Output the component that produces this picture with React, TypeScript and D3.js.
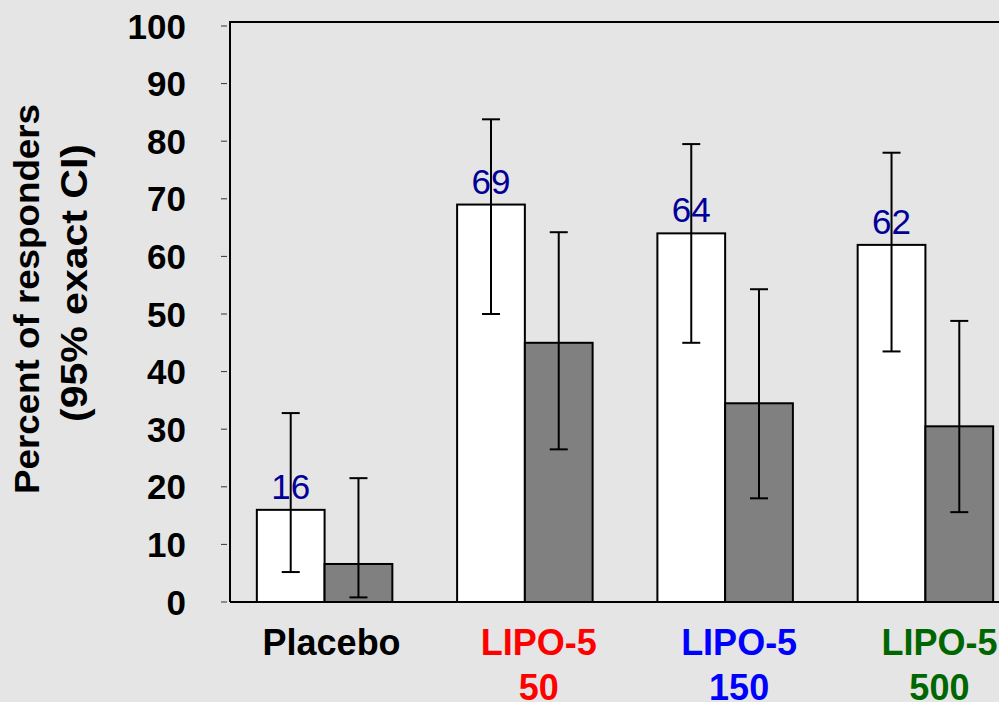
import React, { useEffect, useRef } from "react";
import * as d3 from "d3";

const categories = ["Placebo", "LIPO-5 50", "LIPO-5 150", "LIPO-5 500"];
const labelLines = [["Placebo"], ["LIPO-5", "50"], ["LIPO-5", "150"], ["LIPO-5", "500"]];
const labelColors = ["#000000", "#ff0000", "#0000ff", "#006600"];

// white bars (with printed values) and gray bars
const whiteValues = [16, 69, 64, 62];
const whiteLow = [5.2, 50, 45, 43.5];
const whiteHigh = [32.8, 83.8, 79.5, 78];
const grayValues = [6.6, 45, 34.5, 30.5];
const grayLow = [0.8, 26.5, 18, 15.6];
const grayHigh = [21.5, 64.2, 54.3, 48.8];

const yTicks = [0, 10, 20, 30, 40, 50, 60, 70, 80, 90, 100];

const App = () => {
  const svgRef = useRef<SVGSVGElement>(null);

  useEffect(() => {
    document.body.style.margin = "0";
    document.body.style.overflow = "hidden";

    const width = 999,
      height = 702;
    const left = 230,
      bottom = 602,
      top = 22;
    const font = "'Liberation Sans', Arial, sans-serif";

    const svg = d3
      .select(svgRef.current)
      .attr("width", width)
      .attr("height", height)
      .html("");

    svg.append("rect").attr("width", width).attr("height", height).attr("fill", "#e5e5e5");

    const y = d3.scaleLinear().domain([0, 100]).range([bottom, 26]);

    const x = d3
      .scaleBand()
      .domain(categories)
      .range([left, 1020])
      .paddingInner(0.3234)
      .paddingOuter(0.134);

    const sub = d3.scaleBand().domain(["white", "gray"]).range([0, x.bandwidth()]);

    // frame lines
    svg.append("line")
      .attr("x1", left).attr("x2", width).attr("y1", top).attr("y2", top)
      .attr("stroke", "#000").attr("stroke-width", 2);
    svg.append("line")
      .attr("x1", left).attr("x2", left).attr("y1", top - 1).attr("y2", bottom)
      .attr("stroke", "#000").attr("stroke-width", 2);
    svg.append("line")
      .attr("x1", left).attr("x2", width).attr("y1", bottom).attr("y2", bottom)
      .attr("stroke", "#000").attr("stroke-width", 2);

    // y ticks + labels
    const tg = svg.append("g");
    tg.selectAll("line")
      .data(yTicks)
      .enter()
      .append("line")
      .attr("x1", left - 9)
      .attr("x2", left - 3)
      .attr("y1", (d) => y(d))
      .attr("y2", (d) => y(d))
      .attr("stroke", "#333")
      .attr("stroke-width", 1);
    tg.selectAll("text")
      .data(yTicks)
      .enter()
      .append("text")
      .attr("x", 186)
      .attr("y", (d) => y(d) + 12.5)
      .attr("text-anchor", "end")
      .style("font-family", font)
      .style("font-weight", "bold")
      .style("font-size", "35px")
      .style("fill", "#000")
      .text((d) => d);

    // y title
    const title = [
      { text: "Percent of responders", bx: 39, cy: 299, len: 390, size: 35 },
      { text: "(95% exact CI)", bx: 87, cy: 283, len: 278, size: 37 },
    ];
    svg.append("g")
      .selectAll("text")
      .data(title)
      .enter()
      .append("text")
      .attr("transform", (d) => `translate(${d.bx}, ${d.cy}) rotate(-90)`)
      .attr("text-anchor", "middle")
      .attr("textLength", (d) => d.len)
      .attr("lengthAdjust", "spacingAndGlyphs")
      .style("font-family", font)
      .style("font-weight", "bold")
      .style("font-size", (d) => `${d.size}px`)
      .style("fill", "#000")
      .text((d) => d.text);

    const rows = categories.map((c, i) => ({
      c,
      i,
      white: { v: whiteValues[i], lo: whiteLow[i], hi: whiteHigh[i] },
      gray: { v: grayValues[i], lo: grayLow[i], hi: grayHigh[i] },
    }));

    const groups = svg
      .append("g")
      .selectAll("g")
      .data(rows)
      .enter()
      .append("g")
      .attr("transform", (d) => `translate(${x(d.c)}, 0)`);

    (["white", "gray"] as const).forEach((key) => {
      const fill = key === "white" ? "#ffffff" : "#808080";
      groups
        .append("rect")
        .attr("x", sub(key)!)
        .attr("y", (d) => y(d[key].v))
        .attr("width", sub.bandwidth())
        .attr("height", (d) => bottom - y(d[key].v))
        .attr("fill", fill)
        .attr("stroke", "#000")
        .attr("stroke-width", 2);
    });

    (["white", "gray"] as const).forEach((key) => {
      const cx = sub(key)! + sub.bandwidth() / 2;
      groups
        .append("line")
        .attr("x1", cx).attr("x2", cx)
        .attr("y1", (d) => y(d[key].lo))
        .attr("y2", (d) => y(d[key].hi))
        .attr("stroke", "#000")
        .attr("stroke-width", 2);
      [("lo" as const), ("hi" as const)].forEach((end) => {
        groups
          .append("line")
          .attr("x1", cx - 9).attr("x2", cx + 9)
          .attr("y1", (d) => y(d[key][end]))
          .attr("y2", (d) => y(d[key][end]))
          .attr("stroke", "#000")
          .attr("stroke-width", 2);
      });
    });

    // value labels over white bars
    groups
      .append("text")
      .attr("x", sub("white")! + sub.bandwidth() / 2)
      .attr("y", (d) => y(d.white.v) - 11)
      .attr("text-anchor", "middle")
      .style("font-family", font)
      .style("font-size", "35px")
      .style("fill", "#000099")
      .text((d) => d.white.v);

    // category labels
    const labelX = (d: { c: string; i: number }) =>
      x(d.c)! + x.bandwidth() / 2 + (d.i === 0 ? 7 : 14);
    const lg = svg
      .append("g")
      .selectAll("text")
      .data(rows)
      .enter()
      .append("text")
      .attr("y", 655)
      .attr("text-anchor", "middle")
      .style("font-family", font)
      .style("font-weight", "bold")
      .style("font-size", "36px")
      .style("fill", (d) => labelColors[d.i]);
    lg.selectAll("tspan")
      .data((d) => labelLines[d.i].map((t, k) => ({ t, k, cx: labelX(d) })))
      .enter()
      .append("tspan")
      .attr("x", (d) => d.cx)
      .attr("dy", (d) => (d.k === 0 ? 0 : 45))
      .text((d) => d.t);
  }, []);

  return <svg ref={svgRef}></svg>;
};

export default App;
